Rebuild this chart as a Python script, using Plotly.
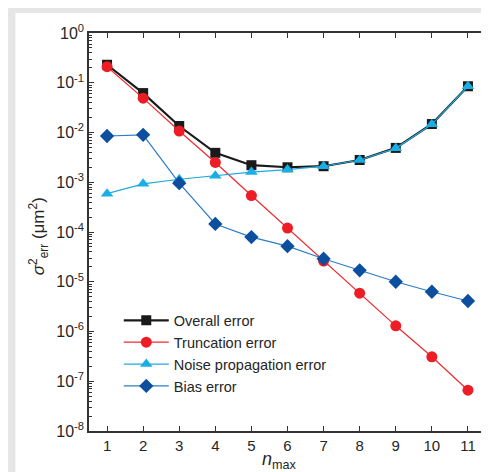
import plotly.graph_objects as go

n = [1, 2, 3, 4, 5, 6, 7, 8, 9, 10, 11]
overall = [0.23, 0.062, 0.0135, 0.0039, 0.0022, 0.0020, 0.0021, 0.0028, 0.0049, 0.0148, 0.085]
truncation = [0.21, 0.049, 0.0107, 0.0025, 0.00054, 0.00012, 2.6e-5, 5.9e-6, 1.3e-6, 3.1e-7, 6.6e-8]
noise = [0.00059, 0.00093, 0.00115, 0.00135, 0.0016, 0.0018, 0.0021, 0.0028, 0.0048, 0.0146, 0.085]
bias = [0.0085, 0.0090, 0.00096, 0.000145, 7.9e-5, 5.2e-5, 2.9e-5, 1.7e-5, 1.0e-5, 6.3e-6, 4.1e-6]

ytickvals = [1e-8, 1e-7, 1e-6, 1e-5, 1e-4, 1e-3, 1e-2, 1e-1, 1]
yticktext = ["10<sup>-8</sup>", "10<sup>-7</sup>", "10<sup>-6</sup>", "10<sup>-5</sup>",
             "10<sup>-4</sup>", "10<sup>-3</sup>", "10<sup>-2</sup>", "10<sup>-1</sup>", "10<sup>0</sup>"]

fig = go.Figure()
fig.add_trace(go.Scatter(x=n, y=overall, name="Overall error", mode="lines+markers",
                         line=dict(color="#1a1a1a", width=2.2),
                         marker=dict(symbol="square", size=10, color="#1a1a1a")))
fig.add_trace(go.Scatter(x=n, y=truncation, name="Truncation error", mode="lines+markers",
                         line=dict(color="#ee2a2e", width=1.2),
                         marker=dict(symbol="circle", size=11, color="#ee1c24")))
fig.add_trace(go.Scatter(x=n, y=noise, name="Noise propagation error", mode="lines+markers",
                         line=dict(color="#22a9dc", width=1.2),
                         marker=dict(symbol="triangle-up", size=11, color="#1aaee6")))
fig.add_trace(go.Scatter(x=n, y=bias, name="Bias error", mode="lines+markers",
                         line=dict(color="#2f7cc6", width=1.2),
                         marker=dict(symbol="diamond", size=11, color="#0b4f9e")))

fig.update_layout(
    width=489, height=472,
    margin=dict(l=81, r=9, t=25, b=49),
    paper_bgcolor="#e6e6e6",
    plot_bgcolor="white",
    font=dict(family="Liberation Sans, Arial, sans-serif", color="#262626", size=15),
    showlegend=True,
    legend=dict(x=0.075, y=0.318, xanchor="left", yanchor="top",
                bgcolor="rgba(0,0,0,0)", font=dict(size=14.5, color="#262626"),
                tracegroupgap=0, itemwidth=45),
    shapes=[dict(type="rect", xref="paper", yref="paper",
                 x0=-0.1855, x1=1.03, y0=-0.13, y1=1.0503,
                 fillcolor="white", line=dict(width=0), layer="below")],
    annotations=[
        dict(text="<i>σ</i><sup>2</sup><sub>err</sub> (μm<sup>2</sup>)", xref="paper", yref="paper",
             x=(30 - 81) / 399, y=(423 - 228) / 398, textangle=-90, showarrow=False,
             font=dict(size=17, color="#262626"), xanchor="center", yanchor="middle"),
        dict(text="<i>n</i><sub>max</sub>", xref="paper", yref="paper",
             x=(272 - 81) / 399, y=(423 - 452) / 398, showarrow=False,
             font=dict(size=18, color="#262626"), xanchor="center", yanchor="middle"),
    ],
)

fig.update_xaxes(range=[0.5, 11.5], tickvals=n, ticks="inside", ticklen=5,
                 showline=True, linecolor="#333333", linewidth=1.5, mirror="ticks",
                 tickcolor="#333333", showgrid=False, zeroline=False,
                 tickfont=dict(size=15))
fig.update_yaxes(type="log", range=[-8, 0], tickvals=ytickvals, ticktext=yticktext,
                 ticks="inside", ticklen=5, showline=True, linecolor="#333333",
                 linewidth=1.5, mirror="ticks", tickcolor="#333333", showgrid=False,
                 zeroline=False, tickfont=dict(size=16),
                 minor=dict(ticks="inside", ticklen=3, dtick="D1", tickcolor="#333333", showgrid=False))

fig.write_html("out.html")
